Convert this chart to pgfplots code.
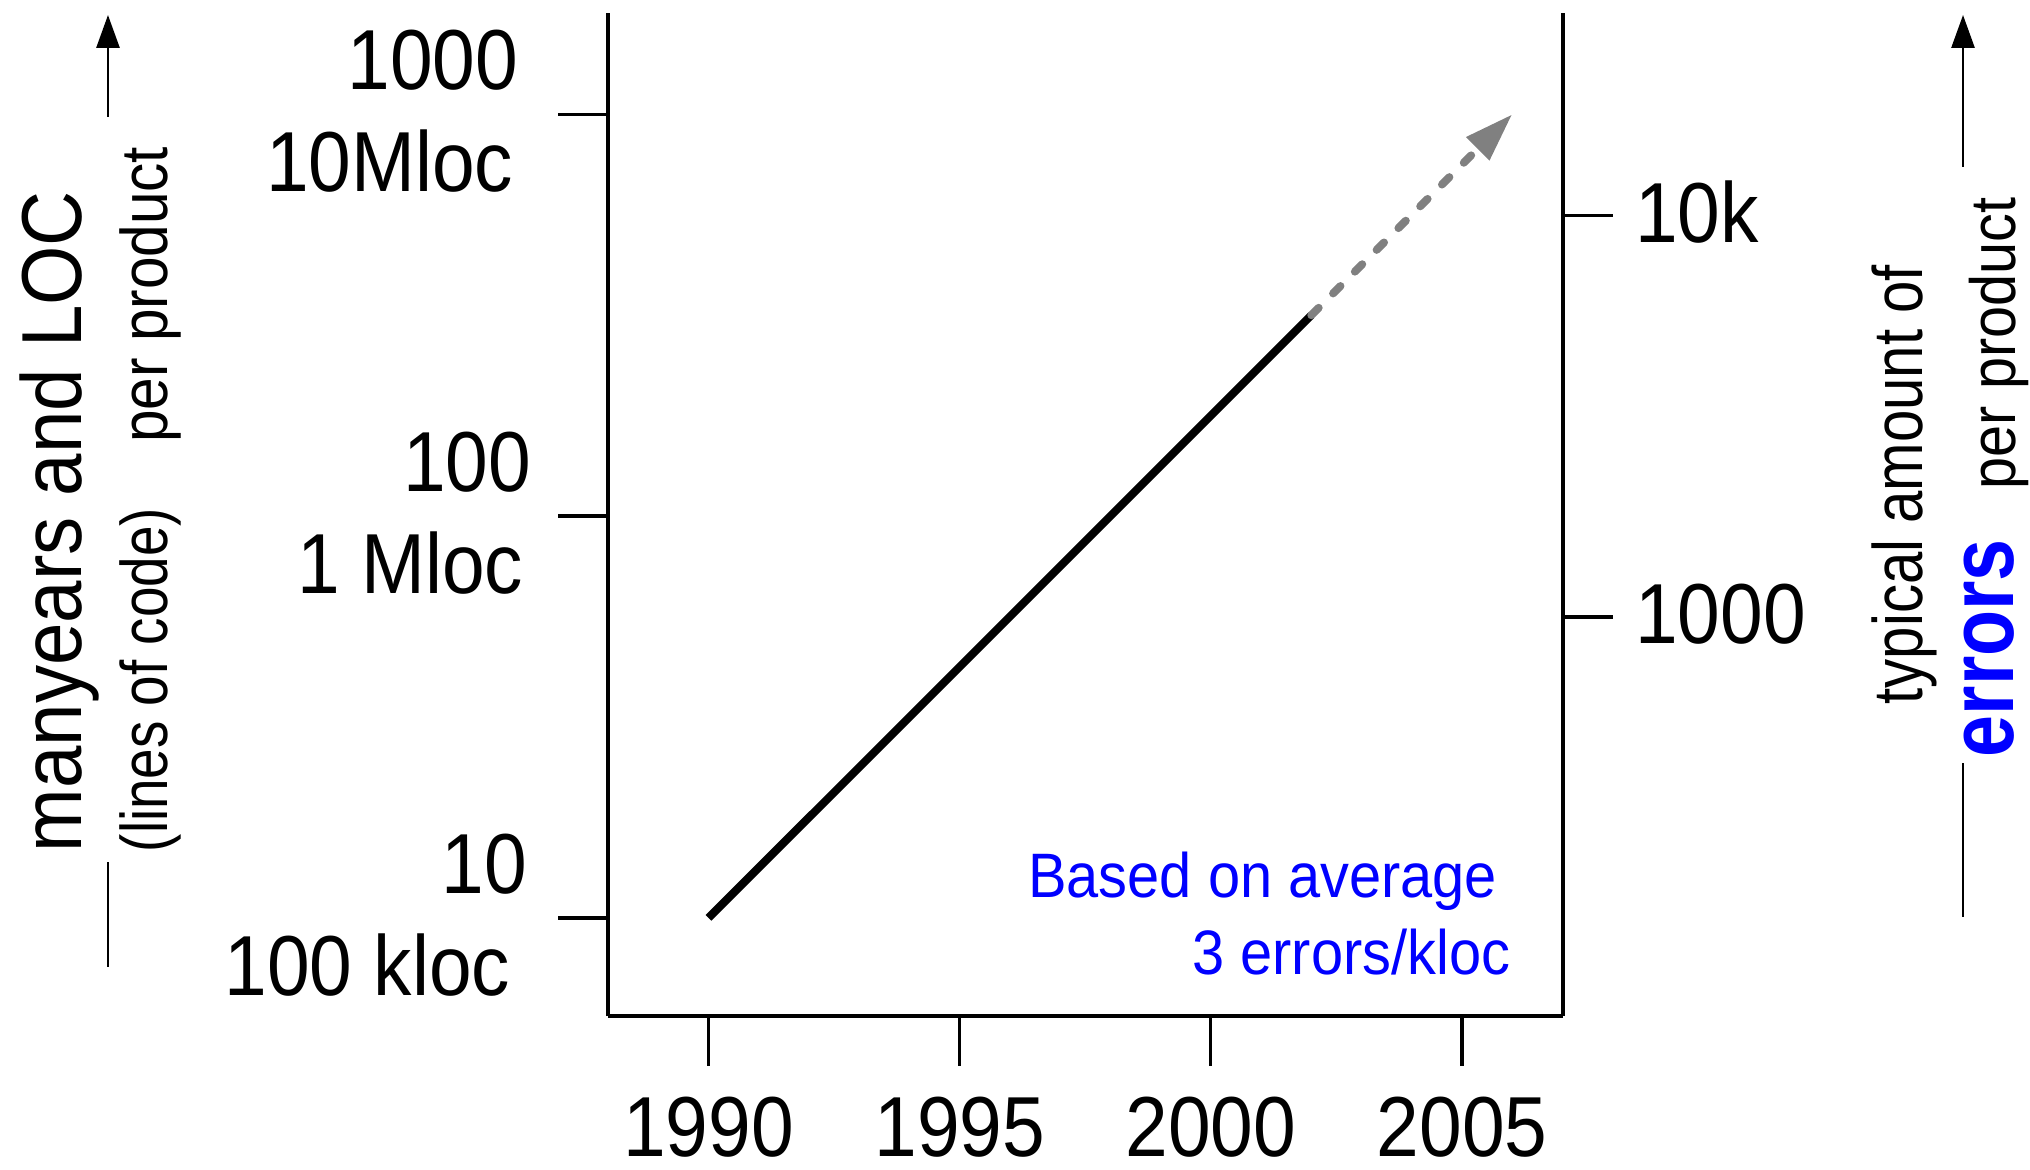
\documentclass[border=0pt]{standalone}
\usepackage{pgfplots}
\pgfplotsset{compat=1.18}
\usepackage{fontspec}
\setmainfont{Liberation Sans}
\newfontfamily\tf[FakeStretch=0.9]{Liberation Sans}
\usetikzlibrary{arrows.meta}
\usepackage{graphicx}
\begin{document}
\begin{tikzpicture}
\begin{scope}[shift={(-152pt,254pt)}, x=0.25pt, y=-0.25pt]
\useasboundingbox (0,0) rectangle (2030,1169);
\end{scope}
\begin{axis}[
  scale only axis, width=238.625pt, height=250.75pt,
  xmin=1988, xmax=2007, ymode=log, ymin=5.70, ymax=1786.5,
  axis x line*=bottom, axis y line*=left,
  axis line style={line width=1pt, black},
  xtick={1990,1995,2000,2005}, xticklabels={1990,1995,2000,2005},
  ytick={10,100,1000},
  yticklabels={{10\hspace*{1pt}\\100 kloc\hspace*{5.25pt}},{100\\1 Mloc\hspace*{2pt}},{1000\hspace*{3.25pt}\\10Mloc\hspace*{4.5pt}}},
  tick align=outside, major tick length=12.5pt,
  major tick style={line width=0.8pt, black},
  minor tick style={draw=none},
  tick label style={font=\fontsize{21.3}{25.5}\selectfont\tf},
  yticklabel style={align=right, anchor=east, inner sep=0pt, xshift=-6.5pt, yshift=0.8pt},
  xticklabel style={anchor=north, inner sep=0pt, yshift=-7.6pt},
  clip=false,
]
\addplot[black, line width=2pt] coordinates {(1990,10) (2002,316.23)};
\addplot[black!50, line width=2pt, line cap=round, dash pattern=on 2.6pt off 5.1pt, -{Triangle[length=12.2pt,width=7.7pt]}] coordinates {(2002,316.23) (2006,1000)};
\end{axis}
\begin{axis}[
  scale only axis, width=238.625pt, height=250.75pt,
  xmin=1988, xmax=2007, ymode=log, ymin=101.6, ymax=31842,
  axis x line=none, axis y line*=right,
  axis line style={line width=1pt, black},
  ytick={1000,10000}, yticklabels={1000,10k},
  tick align=outside, major tick length=12.5pt,
  major tick style={line width=0.8pt, black},
  minor tick style={draw=none},
  tick label style={font=\fontsize{21.3}{25.5}\selectfont\tf},
  yticklabel style={anchor=west, inner sep=0pt, xshift=5.5pt, yshift=0.8pt},
]
\addplot[draw=none] coordinates {(1990,1000)};
\end{axis}
\begin{scope}[shift={(-152pt,254pt)}, x=0.25pt, y=-0.25pt]
  \draw[line width=0.7pt, -{Triangle[length=8.25pt,width=5.75pt]}] (108,117) -- (108,15);
  \draw[line width=0.7pt] (108,862) -- (108,967);
  \draw[line width=0.7pt, -{Triangle[length=8.25pt,width=5.75pt]}] (1963,167) -- (1963,15);
  \draw[line width=0.7pt] (1963,763) -- (1963,917);
  \node[rotate=90, anchor=base west, inner sep=0pt, font=\fontsize{21.3}{25}\selectfont] at (82,853) {\scalebox{0.895}[1]{manyears and LOC}};
  \node[rotate=90, anchor=base west, inner sep=0pt, font=\fontsize{16.5}{20}\selectfont] at (168,853) {\scalebox{0.83}[1]{(lines of code)}};
  \node[rotate=90, anchor=base east, inner sep=0pt, font=\fontsize{16.5}{20}\selectfont] at (168,146) {\scalebox{0.886}[1]{per product}};
  \node[rotate=90, anchor=base west, inner sep=0pt, font=\fontsize{17.5}{21}\selectfont] at (1922,705) {\scalebox{0.83}[1]{typical amount of}};
  \node[rotate=90, anchor=base west, inner sep=0pt, text=blue, font=\fontsize{23}{27}\selectfont\bfseries] at (2013,758) {\scalebox{0.82}[1]{errors}};
  \node[rotate=90, anchor=base east, inner sep=0pt, font=\fontsize{16}{20}\selectfont] at (2015,197) {\scalebox{0.9}[1]{per product}};
  \node[anchor=base east, inner sep=0pt, text=blue, font=\fontsize{15.7}{19}\selectfont] at (1498,897) {\scalebox{0.92}[1]{Based on average}};
  \node[anchor=base east, inner sep=0pt, text=blue, font=\fontsize{15.7}{19}\selectfont] at (1511,974) {\scalebox{0.92}[1]{3 errors/kloc}};
\end{scope}
\end{tikzpicture}
\end{document}
